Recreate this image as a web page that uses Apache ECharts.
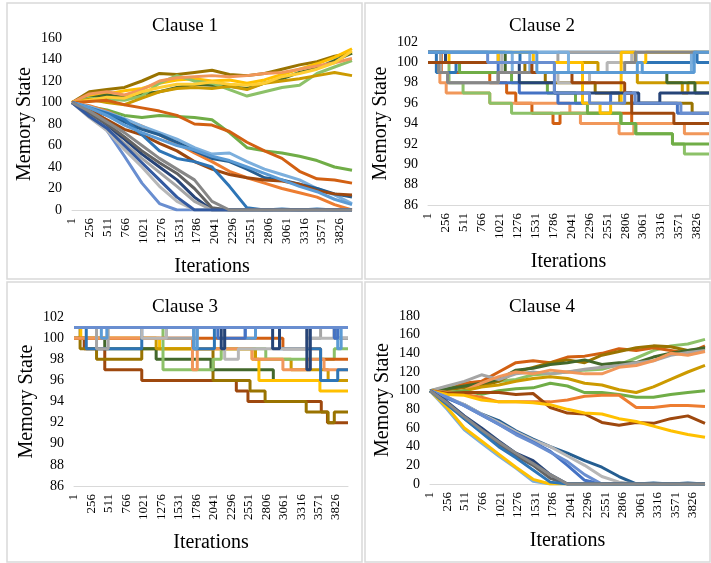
<!DOCTYPE html>
<html>
<head>
<meta charset="utf-8">
<script src="https://cdn.jsdelivr.net/npm/echarts@6/dist/echarts.min.js"></script>
<style>html,body{margin:0;padding:0;background:#fff}#c{width:711px;height:563px}</style>
</head>
<body>
<div id="c"></div>
<script>
// ---------- data ----------
const TITLES = ['Clause 1', 'Clause 2', 'Clause 3', 'Clause 4'];
const X_TICKS = [1,256,511,766,1021,1276,1531,1786,2041,2296,2551,2806,3061,3316,3571,3826];
const ITER = [1,250,500,750,1000,1250,1500,1750,2000,2250,2500,2750,3000,3250,3500,3750,4000];

// Clause 1: memory state sampled at ITER
const clause1 = [
  [100,110,112,114,120,127,126,128,130,126,125,127,131,135,138,143,146],
  [100,106,108,111,113,118,121,122,120,121,118,121,126,131,136,142,150],
  [100,104,107,105,108,110,114,117,116,115,113,118,122,128,132,139,146],
  [100,104,103,102,106,118,125,120,118,112,106,110,114,116,127,133,139],
  [100,103,100,98,104,110,113,114,113,115,112,118,120,122,125,128,125],
  [100,108,110,107,112,120,123,124,125,124,125,127,128,131,134,137,141],
  [100,102,105,104,110,114,117,117,119,117,116,118,124,127,131,137,148],
  [100,96,93,88,86,88,87,86,84,72,58,55,53,50,46,40,37],
  [100,101,102,98,95,92,88,80,79,73,63,55,48,36,29,28,25],
  [100,97,92,84,78,70,62,53,45,36,30,25,20,16,12,5,0],
  [100,96,91,85,78,72,66,58,52,53,45,38,33,28,20,14,6],
  [100,94,88,82,75,70,63,55,48,45,38,30,28,24,20,15,12],
  [100,93,84,75,70,62,55,45,38,33,30,28,27,24,18,15,14],
  [100,95,90,84,70,55,48,45,40,22,2,0,1,0,1,0,0],
  [100,95,88,79,72,66,60,56,50,46,40,34,28,22,17,10,5],
  [100,88,74,50,25,6,0,0,0,0,0,0,0,0,0,0,0],
  [100,86,74,56,40,22,8,0,0,0,0,0,0,0,0,0,0],
  [100,90,78,66,52,40,28,12,0,0,0,0,0,0,0,0,0],
  [100,88,76,62,48,35,22,8,0,0,0,0,0,0,0,0,0],
  [100,90,80,68,55,44,34,20,2,0,0,0,0,0,0,0,0],
  [100,87,76,60,44,28,12,0,0,0,0,0,0,0,0,0,0],
  [100,92,82,72,60,48,38,28,8,0,0,0,0,0,0,0,0]
];

// Clause 2: step changes as [iteration, state]
const clause2 = [
  [[1,101],[190,99],[880,98],[1120,97],[1250,96],[1480,95],[1780,94],[1880,95],[2900,94],[4000,94]],
  [[1,100],[170,98],[260,97],[880,96],[2020,95],[2170,94],[2720,93],[2930,94],[3650,93],[4000,93]],
  [[1,100],[300,98],[500,97],[880,96],[1190,95],[2740,94],[2950,93],[3480,92],[3650,91],[4000,91]],
  [[1,100],[450,99],[1190,98],[1700,97],[2100,96],[2270,95],[2750,94],[2960,93],[3480,92],[4000,92]],
  [[1,100],[2420,99],[2980,98],[3620,97],[3700,98],[4000,98]],
  [[1,100],[1380,99],[1670,98],[2380,97],[2730,96],[3760,95],[4000,95]],
  [[1,101],[1100,99],[3400,98],[3800,97],[4000,97]],
  [[1,101],[120,99],[400,100],[1310,101],[2960,100],[3780,101],[3830,100],[4000,100]],
  [[1,101],[1000,98],[1300,97],[1850,96],[2600,97],[2900,96],[3550,95],[4000,95]],
  [[1,101],[180,99],[280,98],[1000,99],[1800,100],[1850,101],[4000,101]],
  [[1,101],[1050,99],[1850,98],[2300,99],[2550,100],[2900,101],[4000,101]],
  [[1,101],[300,100],[1000,101],[1500,100],[2200,96],[2450,95],[2600,96],[2750,101],[2950,100],[3100,101],[4000,101]],
  [[1,101],[1200,99],[1450,101],[2000,99],[3750,101],[4000,101]],
  [[1,101],[250,100],[1300,98],[1800,97],[3000,96],[3300,97],[4000,97]],
  [[1,100],[150,99],[280,98],[1000,99],[2800,100],[2950,101],[4000,101]],
  [[1,100],[1480,99],[2050,98],[2800,97],[2900,95],[3500,94],[4000,94]],
  [[1,101],[850,100],[1800,97],[2300,96],[2800,97],[2950,96],[3600,95],[4000,95]],
  [[1,101],[1550,99],[2980,100],[3050,99],[3790,101],[4000,101]]
];

// Clause 3: step changes as [iteration, state]
const clause3 = [
  [[1,100],[150,99],[450,97],[990,96],[2370,95],[2540,94],[3610,93],[3700,92],[4000,92]],
  [[1,101],[90,99],[330,98],[990,99],[2030,96],[2570,95],[2790,94],[3390,93],[3710,92],[3800,93],[4000,93]],
  [[1,100],[450,99],[1200,98],[2000,97],[2910,96],[4000,96]],
  [[1,101],[100,100],[1250,99],[2600,98],[2700,96],[3590,95],[4000,95]],
  [[1,100],[1200,99],[2650,98],[3170,97],[3710,96],[4000,96]],
  [[1,101],[1300,97],[2030,98],[2150,99],[2800,98],[3800,99],[4000,99]],
  [[1,100],[2020,100],[3050,99],[3600,98],[4000,98]],
  [[1,100],[1730,97],[1800,99],[2600,98],[3050,97],[3400,98],[3650,97],[4000,97]],
  [[1,101],[180,99],[990,101],[1750,99],[2050,101],[3000,99],[3600,96],[3850,97],[4000,97]],
  [[1,101],[330,99],[500,101],[1350,100],[1800,101],[3400,100],[3600,101],[3850,100],[4000,100]],
  [[1,101],[3800,100],[4000,100]],
  [[1,101],[990,100],[1350,101],[2200,98],[2400,99],[3400,100],[4000,100]],
  [[1,101],[400,100],[480,101],[1750,99],[1800,101],[2500,100],[2650,101],[3850,99],[3900,101],[4000,101]],
  [[1,101],[2100,100],[2500,101],[3800,100],[3850,101],[4000,101]],
  [[1,101],[2150,99],[2200,101],[2900,99],[3000,101],[3400,97],[3450,101],[4000,101]],
  [[1,101],[4000,101]]
];

// Clause 4: memory state sampled at ITER
const clause4 = [
  [100,104,106,108,110,112,117,118,120,122,123,128,135,143,148,150,155],
  [100,100,108,110,120,130,132,130,136,137,140,145,143,146,143,140,148],
  [100,101,103,105,110,120,125,130,133,130,138,142,146,148,147,143,145],
  [100,102,105,108,112,122,124,128,130,133,128,130,130,136,140,143,146],
  [100,105,110,117,112,118,120,118,120,123,125,127,130,132,138,141,143],
  [100,98,100,108,115,120,118,122,120,118,118,125,127,132,140,138,142],
  [100,95,100,104,106,110,113,115,113,108,106,101,98,104,112,120,127],
  [100,98,100,96,100,102,103,108,105,98,98,96,93,93,96,98,100],
  [100,98,96,93,88,88,88,88,90,94,95,95,82,82,84,84,83],
  [100,97,98,98,98,96,97,82,76,75,66,63,66,65,70,73,65],
  [100,96,95,90,88,88,87,85,80,76,75,70,67,62,57,53,50],
  [100,92,85,75,68,57,48,40,33,25,18,8,0,1,0,1,0],
  [100,93,85,75,66,56,47,40,30,20,8,2,0,0,0,0,0],
  [100,92,84,74,64,54,45,35,20,4,0,0,0,0,0,0,0],
  [100,93,84,74,64,53,44,34,24,10,0,0,0,0,0,0,0],
  [100,80,58,44,30,17,3,0,0,0,0,0,0,0,0,0,0],
  [100,82,60,46,32,18,5,0,0,0,0,0,0,0,0,0,0],
  [100,86,70,56,42,30,20,6,0,0,0,0,0,0,0,0,0],
  [100,88,73,60,46,33,25,10,0,0,0,0,0,0,0,0,0],
  [100,85,70,55,40,28,15,2,0,0,0,0,0,0,0,0,0],
  [100,87,72,58,45,33,22,10,0,0,0,0,0,0,0,0,0]
];

// ---------- styles ----------
const c1Colors = ['#997300','#FFC000','#43682B','#8CC168','#CC9A00','#F1975A','#FFCD33',
  '#70AD47','#D26012','#ED7D31','#7CAFDD','#255E91','#9E480E','#2E75B6','#5B9BD5',
  '#698ED0','#B7B7B7','#264478','#A5A5A5','#636363','#335AA1','#878787'];
const c2Colors = ['#D26012','#F1975A','#8CC168','#70AD47','#CC9A00','#997300','#43682B','#2E75B6',
  '#4472C4','#A5A5A5','#B7B7B7','#FFC000','#7CAFDD','#264478','#878787','#9E480E','#698ED0','#5B9BD5'];
const c3Colors = ['#9E480E','#997300','#43682B','#FFC000','#CC9A00','#8CC168','#D26012','#F1975A',
  '#2E75B6','#A5A5A5','#636363','#B7B7B7','#5B9BD5','#4472C4','#264478','#698ED0'];
const c4Colors = ['#8CC168','#D26012','#997300','#43682B','#A5A5A5','#F1975A','#CC9A00','#70AD47',
  '#ED7D31','#9E480E','#FFC000','#255E91','#B7B7B7','#4472C4','#698ED0','#7CAFDD','#FFC000',
  '#636363','#264478','#2E75B6','#878787'];

const FONT = 'Liberation Serif, Times New Roman, serif';
const grids = [
  {left: 72, top: 38, width: 280, height: 172},
  {left: 428, top: 42, width: 281, height: 163},
  {left: 74, top: 317, width: 274, height: 169},
  {left: 430, top: 316, width: 275, height: 168}
];
const yRanges = [[0,160,20],[86,102,2],[86,102,2],[0,180,20]];
const titlePos = [[185,26],[542,26],[185,307],[542,307]];
const panels = [[7,3,355,276],[365,3,345,276],[7,282,355,280],[365,282,345,280]];

const xAxes = grids.map((g, i) => ({
  gridIndex: i, type: 'value', min: 1, max: 4000,
  axisLine: {show: true, onZero: false, lineStyle: {color: '#D9D9D9', width: 1}},
  axisTick: {show: false},
  splitLine: {show: false},
  axisLabel: {customValues: X_TICKS, rotate: 90, fontFamily: FONT, fontSize: 13, color: '#000', margin: 8,
    formatter: v => String(v)},
  name: 'Iterations', nameLocation: 'middle', nameGap: 47,
  nameTextStyle: {fontFamily: FONT, fontSize: 20, color: '#000'}
}));
const yAxes = grids.map((g, i) => ({
  gridIndex: i, type: 'value', min: yRanges[i][0], max: yRanges[i][1], interval: yRanges[i][2],
  axisLine: {show: false}, axisTick: {show: false}, splitLine: {show: false},
  axisLabel: {fontFamily: FONT, fontSize: 14, color: '#000', margin: 10},
  name: 'Memory State', nameLocation: 'middle', nameGap: 37, nameRotate: 90,
  nameTextStyle: {fontFamily: FONT, fontSize: 20, color: '#000'}
}));

const series = [];
function addSampled(list, colors, idx) {
  list.forEach((vals, k) => {
    series.push({type: 'line', xAxisIndex: idx, yAxisIndex: idx, showSymbol: false, silent: true,
      data: vals.map((v, j) => [ITER[j], v]),
      lineStyle: {width: 3, color: colors[k % colors.length]}, itemStyle: {color: colors[k % colors.length]}});
  });
}
function addSteps(list, colors, idx) {
  list.forEach((pts, k) => {
    series.push({type: 'line', step: 'end', xAxisIndex: idx, yAxisIndex: idx, showSymbol: false, silent: true,
      data: pts.map(p => [p[0], p[1]]),
      lineStyle: {width: 3, color: colors[k % colors.length]}, itemStyle: {color: colors[k % colors.length]}});
  });
}
addSampled(clause1, c1Colors, 0);
addSteps(clause2, c2Colors, 1);
addSteps(clause3, c3Colors, 2);
addSampled(clause4, c4Colors, 3);

const graphic = [];
panels.forEach(p => graphic.push({type: 'rect', shape: {x: p[0], y: p[1], width: p[2], height: p[3]},
  style: {fill: 'none', stroke: '#D9D9D9', lineWidth: 1.5}, z: -1}));
TITLES.forEach((t, i) => graphic.push({type: 'text', x: titlePos[i][0], y: titlePos[i][1],
  style: {text: t, font: '19px ' + FONT, fill: '#000', textAlign: 'center', textVerticalAlign: 'middle',
    align: 'center', verticalAlign: 'middle'}}));

const chart = echarts.init(document.getElementById('c'));
chart.setOption({
  animation: false,
  backgroundColor: '#fff',
  grid: grids,
  xAxis: xAxes,
  yAxis: yAxes,
  series: series,
  graphic: graphic
});
</script>
</body>
</html>
